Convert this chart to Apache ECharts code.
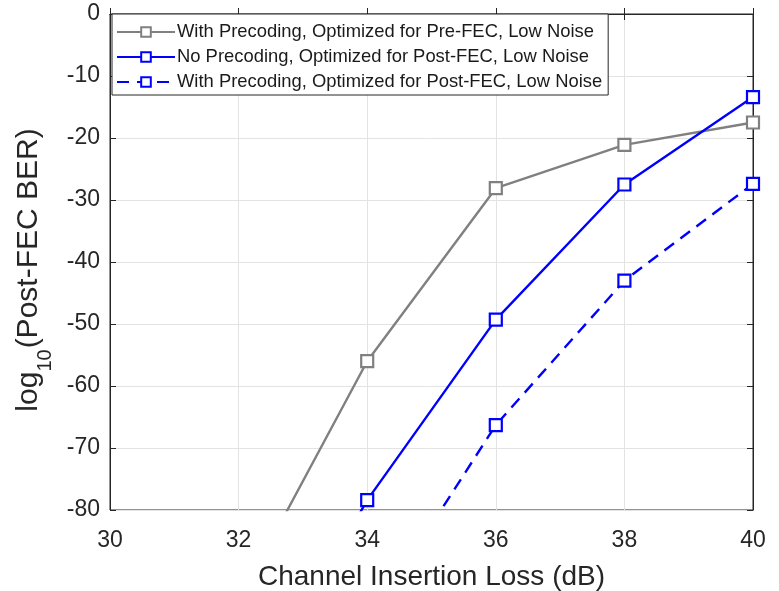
<!DOCTYPE html>
<html>
<head>
<meta charset="utf-8">
<script src="https://cdn.jsdelivr.net/npm/echarts@6/dist/echarts.min.js"></script>
<style>
  html, body { margin: 0; padding: 0; background: #fff; }
  #chart { width: 779px; height: 591px; }
</style>
</head>
<body>
<div id="chart"></div>
<script>
// Channel insertion loss (dB) at which each configuration was evaluated
const lossDb = [32, 34, 36, 38, 40];

// log10 of post-FEC BER for each configuration
const precodePreFec = [-94.7, -56.0, -28.1, -21.1, -17.5];
const noPrecodePostFec = [-115, -78.4, -49.3, -27.5, -13.4];
const precodePostFec = [-131, -98.5, -66.3, -43.0, -27.4];

const seriesNames = [
  'With Precoding, Optimized for Pre-FEC, Low Noise',
  'No Precoding, Optimized for Post-FEC, Low Noise',
  'With Precoding, Optimized for Post-FEC, Low Noise'
];

const xTicks = { min: 30, max: 40, interval: 2 };
const yTicks = { min: -80, max: 0, interval: 10 };

const pairs = (xs, ys) => xs.map((x, i) => [x, ys[i]]);

const axisColor = '#262626';
const gridColor = '#e3e3e3';
const font = 'Liberation Sans, Arial, Helvetica, sans-serif';

const chart = echarts.init(document.getElementById('chart'), null, { renderer: 'canvas' });

function lineSeries(name, data, color, dashed) {
  return {
    name: name,
    type: 'line',
    data: data,
    clip: true,
    symbol: 'rect',
    symbolSize: 12,
    showAllSymbol: true,
    itemStyle: { color: '#fff', borderColor: color, borderWidth: 2.2 },
    lineStyle: { color: color, width: 2.4, type: dashed ? [12, 8] : 'solid' },
    emphasis: { disabled: true },
    animation: false,
    z: 3
  };
}

chart.setOption({
  backgroundColor: '#fff',
  animation: false,
  grid: {
    left: 110, right: 26, top: 14, bottom: 81,
    outerBoundsMode: 'none',
    containLabel: false,
    show: true, borderColor: axisColor, borderWidth: 1, backgroundColor: '#fff'
  },
  legend: {
    orient: 'vertical',
    left: 112, top: 14,
    itemWidth: 58, itemHeight: 12,
    itemGap: 7,
    padding: [9, 6, 4, 4],
    backgroundColor: '#fff',
    borderColor: axisColor,
    borderWidth: 1,
    borderRadius: 0,
    selectedMode: false,
    textStyle: { fontFamily: font, fontSize: 18.4, color: '#1a1a1a', padding: [0, 0, 0, -3] },
    data: seriesNames
  },
  xAxis: [{
    type: 'value',
    min: xTicks.min, max: xTicks.max, interval: xTicks.interval,
    name: 'Channel Insertion Loss (dB)',
    nameLocation: 'middle',
    nameGap: 53,
    nameTextStyle: { fontFamily: font, fontSize: 28, color: axisColor },
    axisLine: { show: true, lineStyle: { color: axisColor, width: 1 } },
    axisTick: { show: true, inside: true, length: 6, lineStyle: { color: axisColor } },
    axisLabel: { fontFamily: font, fontSize: 23, color: axisColor, margin: 19 },
    splitLine: { show: true, lineStyle: { color: gridColor, width: 1 } }
  }, {
    type: 'value', position: 'top',
    min: xTicks.min, max: xTicks.max, interval: xTicks.interval,
    axisLine: { show: true, lineStyle: { color: axisColor, width: 1 } },
    axisTick: { show: true, inside: true, length: 6, lineStyle: { color: axisColor } },
    axisLabel: { show: false },
    splitLine: { show: false }
  }],
  yAxis: [{
    type: 'value',
    min: yTicks.min, max: yTicks.max, interval: yTicks.interval,
    name: '{n|log}{s|10}{n|(Post-FEC BER)}',
    nameLocation: 'middle',
    nameGap: 50,
    nameRotate: 90,
    nameTextStyle: {
      padding: [0, 16, 0, 0],
      rich: {
        n: { fontFamily: font, fontSize: 30, color: axisColor },
        s: { fontFamily: font, fontSize: 20, color: axisColor, verticalAlign: 'bottom', padding: [0, 1, -12, 0] }
      }
    },
    axisLine: { show: true, lineStyle: { color: axisColor, width: 1 } },
    axisTick: { show: true, inside: true, length: 6, lineStyle: { color: axisColor } },
    axisLabel: { fontFamily: font, fontSize: 23, color: axisColor, margin: 10 },
    splitLine: { show: true, lineStyle: { color: gridColor, width: 1 } }
  }, {
    type: 'value', position: 'right',
    min: yTicks.min, max: yTicks.max, interval: yTicks.interval,
    axisLine: { show: true, lineStyle: { color: axisColor, width: 1 } },
    axisTick: { show: true, inside: true, length: 6, lineStyle: { color: axisColor } },
    axisLabel: { show: false },
    splitLine: { show: false }
  }],
  series: [
    lineSeries(seriesNames[0], pairs(lossDb, precodePreFec), '#808080', false),
    lineSeries(seriesNames[1], pairs(lossDb, noPrecodePostFec), '#0000ff', false),
    lineSeries(seriesNames[2], pairs(lossDb, precodePostFec), '#0000ff', true)
  ]
});
</script>
</body>
</html>
